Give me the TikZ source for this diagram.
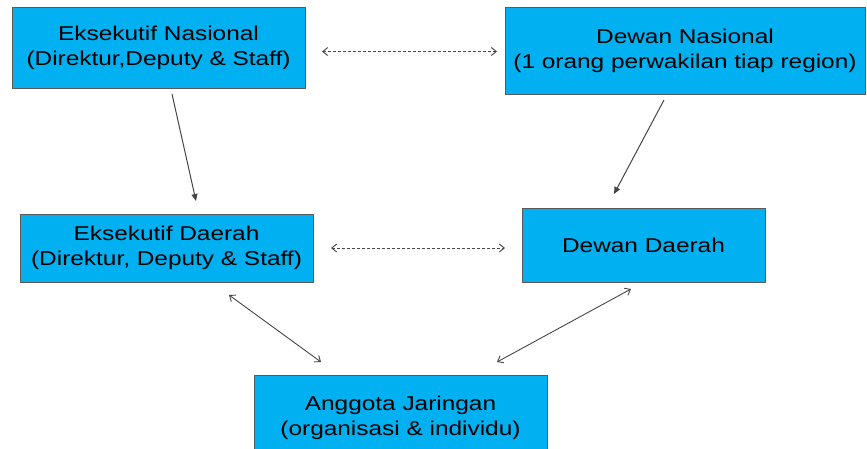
\documentclass[tikz,border=0pt]{standalone}
\usepackage{fontspec}
\setmainfont{Liberation Sans}[FakeStretch=1.22]
\usetikzlibrary{arrows.meta}
\definecolor{boxfill}{RGB}{0,176,240}
\definecolor{boxline}{RGB}{90,90,90}
\definecolor{arrowgray}{RGB}{70,70,70}
\tikzset{
  orgbox/.style={draw=boxline, line width=0.9pt, fill=boxfill, inner sep=0pt,
    align=center, font=\fontsize{20}{25}\selectfont, text=black},
  solidarr/.style={draw=arrowgray, line width=1pt, -{Triangle[length=7pt,width=6pt]}},
  dblarr/.style={draw=arrowgray, line width=0.9pt, {Straight Barb[length=5pt,width=8pt]}-{Straight Barb[length=5pt,width=8pt]}},
  dasharr/.style={draw=arrowgray, line width=0.9pt, dash pattern=on 3pt off 2pt, {Straight Barb[length=5pt,width=8pt]}-{Straight Barb[length=5pt,width=8pt]}}
}
\begin{document}
\begin{tikzpicture}[x=1pt,y=-1pt]
\clip (0,0) rectangle (867,448);
\fill[white] (0,0) rectangle (867,448);
\node[orgbox, minimum width=293pt, minimum height=81pt] (en) at (158.5,47.5) {Eksekutif Nasional\\(Direktur,Deputy \& Staff)};
\node[orgbox, minimum width=360pt, minimum height=87pt] (dn) at (685,50.5) {Dewan Nasional\\(1 orang perwakilan tiap region)};
\node[orgbox, minimum width=293pt, minimum height=68pt] (ed) at (166.5,248) {Eksekutif Daerah\\(Direktur, Deputy \& Staff)};
\node[orgbox, minimum width=243pt, minimum height=74pt] (dd) at (643.5,245) {Dewan Daerah};
\node[orgbox, minimum width=293pt, minimum height=86pt] (aj) at (400.5,418) {Anggota Jaringan\\(organisasi \& individu)};

\coordinate (d1a) at (322,51.5);
\coordinate (d1b) at (497,51.5);
\coordinate (d2a) at (331,248);
\coordinate (d2b) at (505,248);
\coordinate (s1a) at (172,94);
\coordinate (s1b) at (196,201);
\coordinate (s2a) at (664,100);
\coordinate (s2b) at (614,194);
\coordinate (b1a) at (229,295);
\coordinate (b1b) at (321,362);
\coordinate (b2a) at (631,289);
\coordinate (b2b) at (497,362);

\draw[dasharr] (d1a) -- (d1b);
\draw[dasharr] (d2a) -- (d2b);
\draw[solidarr] (s1a) -- (s1b);
\draw[solidarr] (s2a) -- (s2b);
\draw[dblarr] (b1a) -- (b1b);
\draw[dblarr] (b2a) -- (b2b);
\end{tikzpicture}
\end{document}
